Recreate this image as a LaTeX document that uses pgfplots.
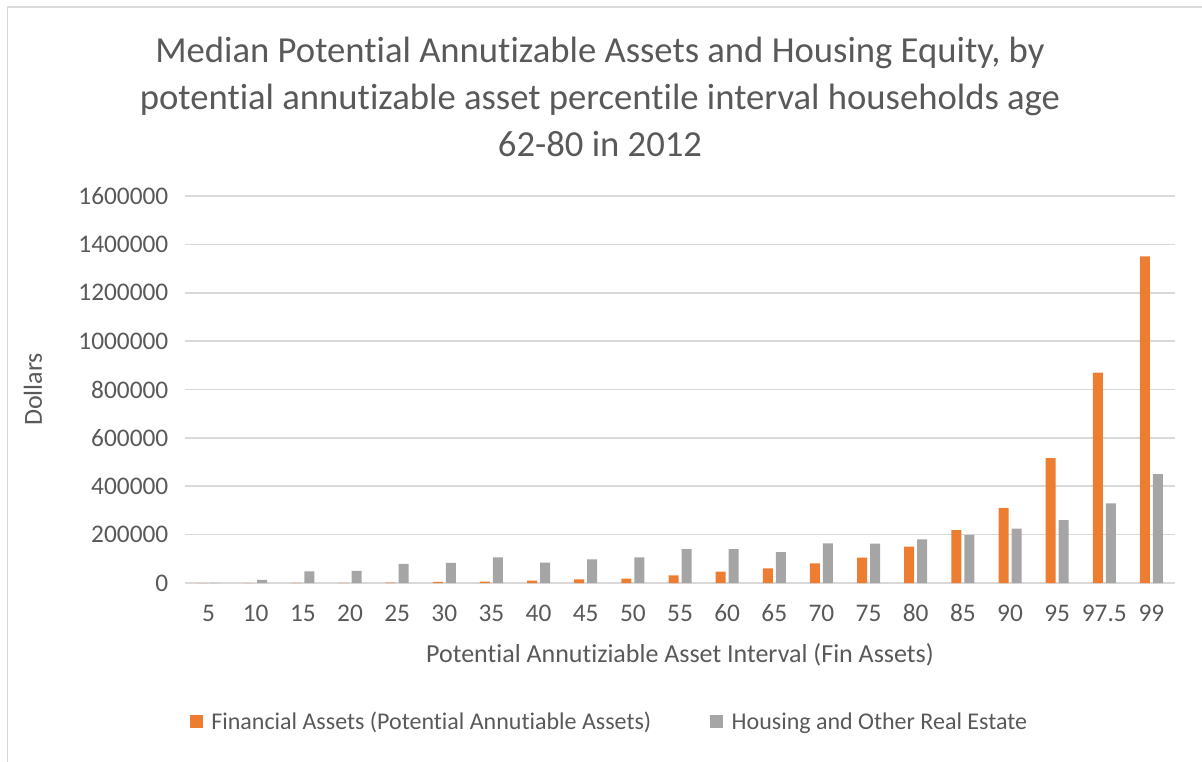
\documentclass[border=0pt]{standalone}
\usepackage{pgfplots}
\pgfplotsset{compat=1.18}
\usepackage{fontspec}
\setmainfont{Carlito}[Ligatures=NoCommon]
\definecolor{orangeb}{HTML}{ED7D31}
\definecolor{grayb}{HTML}{A5A5A5}
\definecolor{gridc}{HTML}{D9D9D9}
\definecolor{txt}{HTML}{595959}
\begin{document}
\begin{tikzpicture}[x=1pt,y=1pt]
\useasboundingbox (0,0) rectangle (901.5,570.75);
\draw[gridc, line width=1.2pt] (5.6,-5) -- (5.6,565.5) -- (910,565.5);
\node[txt, align=center, font=\fontsize{27.5}{35.5}\selectfont] at (450,498) {Median Potential Annutizable Assets and Housing Equity, by\\potential annutizable asset percentile interval households age\\62-80 in 2012};
\begin{axis}[
  at={(138.75pt,133.5pt)}, anchor=south west,
  scale only axis, width=742.5pt, height=290.25pt,
  ybar=2.25pt, bar width=7.5pt,
  xmin=-0.5, xmax=20.5, ymin=0, ymax=1600000,
  xtick={0,...,20},
  xticklabels={5,10,15,20,25,30,35,40,45,50,55,60,65,70,75,80,85,90,95,97.5,99},
  ytick={0,200000,...,1600000},
  scaled y ticks=false,
  /pgf/number format/assume math mode=true,
  yticklabel style={/pgf/number format/fixed, /pgf/number format/1000 sep={}, anchor=east, xshift=-9pt},
  xticklabel style={anchor=center, yshift=-22.5pt},
  tick label style={font=\fontsize{19}{21}\selectfont, text=txt},
  major tick length=0pt,
  axis line style={draw=none},
  ymajorgrids, grid style={gridc, line width=1.2pt},
  xlabel={Potential Annutiziable Asset Interval (Fin Assets)},
  ylabel={Dollars},
  label style={font=\fontsize{19.5}{21}\selectfont, text=txt},
  xlabel style={at={(rel axis cs:0.5,0)}, anchor=center, yshift=-54pt},
  ylabel style={at={(axis description cs:-0.1535,0.5)}, anchor=center},
  legend style={at={(0.429,-0.359)}, anchor=center, draw=none, fill=none,
    legend columns=2, font=\fontsize{18}{20}\selectfont, text=txt,
    /tikz/every odd column/.append style={column sep=4.5pt},
    /tikz/every even column/.append style={column sep=42pt}},
  legend image code/.code={\fill[#1] (0pt,-4.9pt) rectangle (9.75pt,4.9pt);},
  clip=false,
]
\addplot[fill=orangeb, draw=none] coordinates {
(0,0) (1,0) (2,500) (3,1000) (4,2000) (5,5000) (6,6000) (7,10000) (8,15000) (9,18000) (10,32000) (11,47000) (12,60000) (13,81000) (14,105000) (15,150000) (16,219000) (17,311000) (18,516000) (19,870000) (20,1350000)};
\addplot[fill=grayb, draw=none] coordinates {
(0,1000) (1,13000) (2,48000) (3,50000) (4,79000) (5,83000) (6,106000) (7,84000) (8,98000) (9,106000) (10,140000) (11,140000) (12,128000) (13,164000) (14,163000) (15,180000) (16,199000) (17,225000) (18,260000) (19,329000) (20,450000)};
\legend{Financial Assets (Potential Annutiable Assets),Housing and Other Real Estate}
\end{axis}
\end{tikzpicture}
\end{document}
